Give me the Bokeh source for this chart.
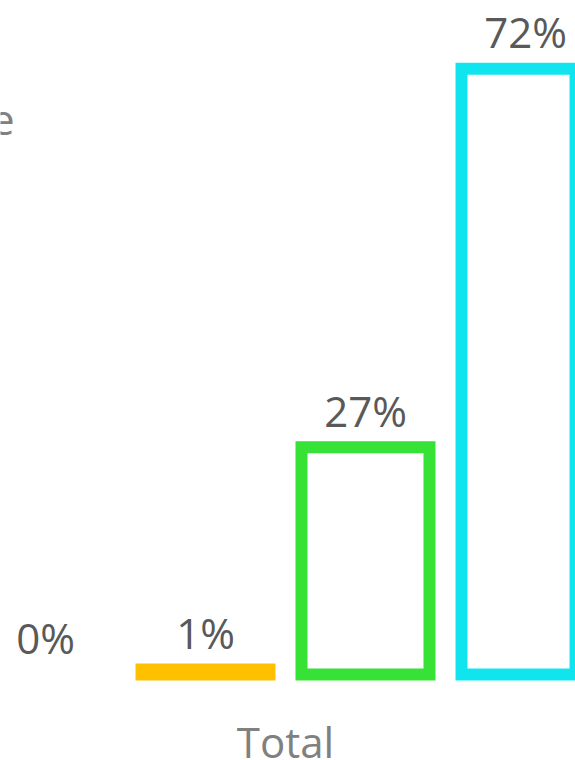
from bokeh.plotting import figure
from bokeh.models import Range1d, Label
from bokeh.embed import file_html
from bokeh.resources import INLINE
from bokeh.core.properties import value

# ---- data ----
category = "Total"
series = ["Series 1", "Series 2", "Series 3", "Series 4"]
values = [0.0, 0.6, 27.0, 72.0]          # percent
labels = ["0%", "1%", "27%", "72%"]
colors = ["#A5A5A5", "#FFC000", "#36E236", "#10E5EF"]

n = len(series)
offsets = [i - (n - 1) / 2 for i in range(n)]

p = figure(width=575, height=760,
           x_range=Range1d(-1.78125, 1.8125), y_range=Range1d(-10.223, 80.12),
           output_backend="svg", toolbar_location=None,
           x_axis_location=None, y_axis_location=None, min_border=0)
p.grid.visible = False
p.outline_line_color = None
p.background_fill_color = "white"
p.border_fill_color = "white"

for off, v, c in zip(offsets, values, colors):
    if v > 0:
        p.vbar(x=[off], top=[v], bottom=0, width=0.8, fill_color="white",
               line_color=c, line_width=12, line_join="miter")

p.text(x=offsets, y=values, text=labels, text_align="center",
       text_baseline="alphabetic", y_offset=-37,
       text_font=value("Open Sans"), text_font_size="42px", text_color="#595959")

p.text(x=[0], y=[0], text=[category], text_align="center",
       text_baseline="alphabetic", y_offset=67,
       text_font=value("Open Sans"), text_font_size="42px", text_color="#808080")

p.add_layout(Label(x=14, y=641, x_units="screen", y_units="screen", text="e",
                   text_align="right", text_baseline="alphabetic",
                   text_font="Open Sans", text_font_size="42px", text_color="#808080"))

open("out.html", "w").write(file_html(p, INLINE))
